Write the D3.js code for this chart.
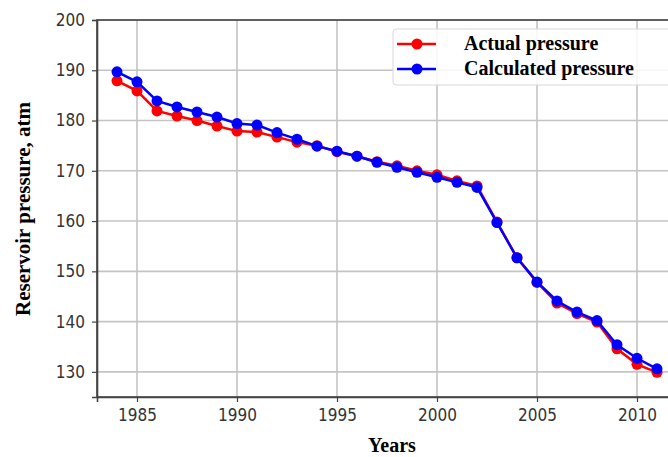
<!DOCTYPE html>
<html>
<head>
<meta charset="utf-8">
<script src="https://cdn.jsdelivr.net/npm/d3@7"></script>
<style>
  body { margin: 0; background: #fff; }
  svg { display: block; overflow: hidden; }
  .tick text { font-family: "DejaVu Sans Condensed", "DejaVu Sans", sans-serif; font-size: 17px; fill: #333; }
  .axis path { stroke: #444; stroke-width: 1.6; }
  .axis line { stroke: #444; stroke-width: 1.2; }
  .grid line { stroke: #c4c4c4; stroke-width: 1.6; }
  .title { font-family: "Liberation Serif", "Times New Roman", serif; font-weight: bold; fill: #000; }
</style>
</head>
<body>
<div id="chart"></div>
<script>
// data
let years = d3.range(1984, 2012);
let actualPressure = [187.9, 185.9, 181.9, 180.9, 180.0, 178.9, 177.9, 177.7, 176.7, 175.7,
    175.0, 173.8, 172.9, 171.8, 171.0, 170.0, 169.2, 168.0, 167.0, 159.8,
    152.7, 147.8, 143.7, 141.6, 139.9, 134.6, 131.5, 129.9];
let calculatedPressure = [189.7, 187.7, 183.9, 182.7, 181.7, 180.7, 179.4, 179.1, 177.6, 176.3,
    174.9, 173.9, 172.9, 171.7, 170.7, 169.7, 168.7, 167.7, 166.7, 159.7,
    152.7, 147.9, 144.1, 141.9, 140.2, 135.4, 132.7, 130.6];
let yTicks = [130, 140, 150, 160, 170, 180, 190, 200];
let xTicks = [1985, 1990, 1995, 2000, 2005, 2010];

let series = [
    {name: "Actual pressure", values: actualPressure, color: "#ff0000"},
    {name: "Calculated pressure", values: calculatedPressure, color: "#0000ff"}
];

let margin = {top: 20, left: 97};
let width = 587, height = 377;

let svg = d3.select("#chart").append("svg")
    .attr("width", 668)
    .attr("height", 457);

let g = svg.append("g")
    .attr("transform", "translate(" + margin.left + "," + margin.top + ")");

let x = d3.scaleLinear().domain([1983, 2012.35]).range([0, width]);
let y = d3.scaleLinear().domain([125, 200]).range([height, 0]);

// grid
g.append("g").attr("class", "grid")
    .selectAll("line").data(xTicks).enter().append("line")
    .attr("x1", d => x(d)).attr("x2", d => x(d))
    .attr("y1", 0).attr("y2", height);
g.append("g").attr("class", "grid")
    .selectAll("line").data(yTicks).enter().append("line")
    .attr("x1", 0).attr("x2", width)
    .attr("y1", d => y(d)).attr("y2", d => y(d));

// frame
g.append("rect")
    .attr("width", width).attr("height", height)
    .attr("fill", "none").attr("stroke", "#444").attr("stroke-width", 1.6);

let xAxis = d3.axisBottom(x).tickValues(xTicks).tickFormat(d3.format("d")).tickSize(5).tickPadding(7);
let yAxis = d3.axisLeft(y).tickValues(yTicks).tickSize(5).tickPadding(7);

g.append("g").attr("class", "x-axis axis")
    .attr("transform", "translate(0," + height + ")")
    .call(xAxis);
g.append("g").attr("class", "y-axis axis")
    .call(yAxis);

// lines and markers
let line = d3.line()
    .x((d, i) => x(years[i]))
    .y(d => y(d));

series.forEach((s, k) => {
    let sg = g.append("g").attr("class", "series-" + k);
    sg.append("path")
        .datum(s.values)
        .attr("fill", "none")
        .attr("stroke", s.color)
        .attr("stroke-width", 2.5)
        .attr("d", line);
    sg.selectAll("circle")
        .data(s.values).enter().append("circle")
        .attr("cx", (d, i) => x(years[i]))
        .attr("cy", d => y(d))
        .attr("r", 5.5)
        .attr("fill", s.color);
});

// legend
let legend = svg.append("g").attr("transform", "translate(393,29)");
legend.append("rect")
    .attr("width", 290).attr("height", 56).attr("rx", 3)
    .attr("fill", "#fff").attr("fill-opacity", 0.85)
    .attr("stroke", "#d8d8d8").attr("stroke-width", 1);
series.forEach((s, i) => {
    let ly = 15 + i * 25;
    legend.append("line")
        .attr("x1", 4).attr("x2", 43).attr("y1", ly).attr("y2", ly)
        .attr("stroke", s.color).attr("stroke-width", 2.5);
    legend.append("circle")
        .attr("cx", 24).attr("cy", ly).attr("r", 5.5).attr("fill", s.color);
    legend.append("text")
        .attr("class", "title")
        .attr("x", 71).attr("y", ly + 6)
        .style("font-size", "20px")
        .text(s.name);
});

// axis titles
svg.append("text").attr("class", "title")
    .attr("x", 392).attr("y", 452)
    .attr("text-anchor", "middle")
    .style("font-size", "20px")
    .text("Years");
svg.append("text").attr("class", "title")
    .attr("transform", "translate(30,209) rotate(-90)")
    .attr("text-anchor", "middle")
    .style("font-size", "21px")
    .text("Reservoir pressure, atm");
</script>
</body>
</html>
